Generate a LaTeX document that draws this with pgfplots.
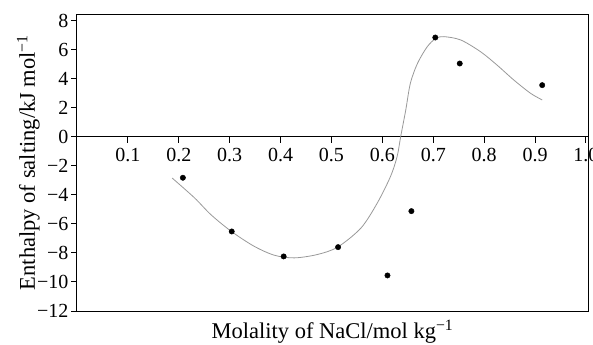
\documentclass[border=0pt]{standalone}
\usepackage{pgfplots}
\pgfplotsset{compat=1.18}
\usepackage{fontspec}
\setmainfont{Liberation Serif}

% measured enthalpies of salting
\pgfplotstableread{
m      dH
0.208  -2.82
0.304  -6.52
0.406  -8.24
0.513  -7.60
0.610  -9.55
0.657  -5.12
0.704   6.84
0.752   5.05
0.914   3.56
}\measured

% smoothed trend curve
\pgfplotstableread{
m      dH
0.187  -2.84
0.231  -4.21
0.263  -5.36
0.303  -6.51
0.348  -7.54
0.388  -8.16
0.427  -8.34
0.472  -8.11
0.512  -7.60
0.558  -6.28
0.590  -4.56
0.616  -2.73
0.629  -1.35
0.636   0.02
0.646   1.86
0.655   3.69
0.669   5.06
0.688   6.20
0.705   6.78
0.721   6.90
0.754   6.67
0.793   5.86
0.825   4.95
0.858   3.92
0.891   3.00
0.914   2.54
}\trend

\begin{document}
\begin{tikzpicture}
\begin{axis}[
  name=ax,
  scale only axis,
  width=511pt, height=297pt,
  xmin=0, xmax=1.004,
  ymin=-12, ymax=8.46,
  axis x line*=middle,
  axis y line*=left,
  axis line style={line width=1pt},
  xtick={0.1,0.2,...,1.0},
  xticklabels={0.1,0.2,0.3,0.4,0.5,0.6,0.7,0.8,0.9,1.0},
  ytick={-12,-10,...,8},
  yticklabels={−12,−10,−8,−6,−4,−2,0,2,4,6,8},
  tick align=outside,
  major tick length=6pt,
  tick style={line width=1pt, black},
  minor tick num=0,
  ticklabel style={font=\fontsize{20}{24}\selectfont},
  xticklabel style={yshift=-2pt},
  yticklabel style={xshift=1pt},
  xlabel={Molality of NaCl/mol kg\textsuperscript{−1}},
  ylabel={Enthalpy of salting/kJ mol\textsuperscript{−1}},
  every axis x label/.style={at={(axis description cs:0.5,-0.0909)}, anchor=base,
    font=\fontsize{22.5}{26}\selectfont},
  every axis y label/.style={at={(axis description cs:-0.0822,0.5)}, rotate=90, anchor=base,
    font=\fontsize{22.5}{26}\selectfont},
  clip=false,
]
  \draw[line width=1pt] (rel axis cs:0,0) rectangle (rel axis cs:1,1);
  \addplot[gray!80, line width=0.8pt, smooth, no marks] table[x=m, y=dH] {\trend};
  \addplot[only marks, mark=*, mark size=2.7pt, black] table[x=m, y=dH] {\measured};
\end{axis}
\pgfresetboundingbox
\path ([xshift=-77pt,yshift=-33pt]ax.south west) rectangle ([xshift=5pt,yshift=14pt]ax.north east);
\end{tikzpicture}
\end{document}
